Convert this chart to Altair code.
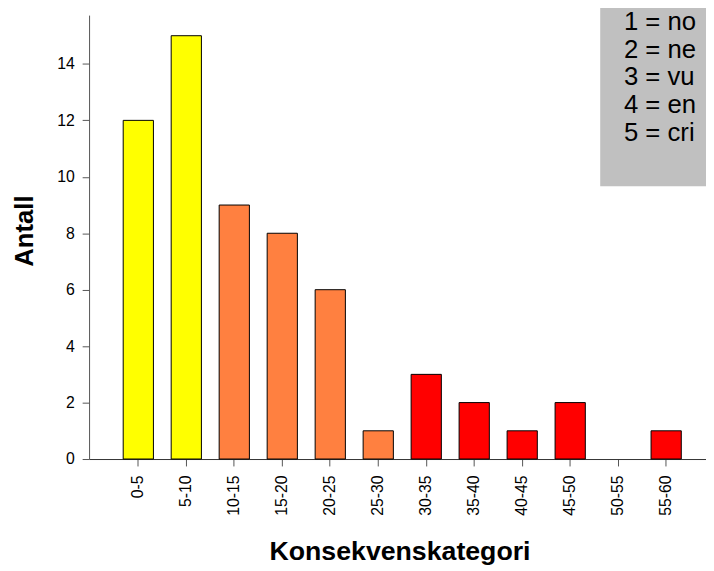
import altair as alt
import pandas as pd

categories = ["0-5", "5-10", "10-15", "15-20", "20-25", "25-30",
              "30-35", "35-40", "40-45", "45-50", "50-55", "55-60"]
counts = [12, 15, 9, 8, 6, 1, 3, 2, 1, 2, 0, 1]
levels = ["gul", "gul", "oransje", "oransje", "oransje", "oransje",
          "rød", "rød", "rød", "rød", "rød", "rød"]
level_names = ["gul", "oransje", "rød"]
level_colors = ["#FFFF00", "#FF8040", "#FF0000"]
y_ticks = [0, 2, 4, 6, 8, 10, 12, 14]
legend_lines = ["1 = no", "2 = ne", "3 = vu", "4 = en", "5 = cri"]

df = pd.DataFrame({"kategori": categories, "antall": counts, "niva": levels})
one = pd.DataFrame({"k": [0]})

FONT = "Liberation Sans"

bars = alt.Chart(df).transform_filter("datum.antall > 0").mark_bar(
    stroke="#000000", strokeWidth=1
).encode(
    x=alt.X("kategori:N", sort=categories,
            scale=alt.Scale(domain=categories, paddingInner=0.37,
                            paddingOuter=0.613, align=0.58),
            axis=alt.Axis(title="Konsekvenskategori", labelAngle=270,
                          labelAlign="right", labelBaseline="middle",
                          labelPadding=9, titleFontSize=27,
                          titleFontWeight="bold", titleX=314, titleY=102,
                          titleBaseline="alphabetic", titleAlign="center",
                          labelFontSize=16, tickSize=7, tickColor="#555555",
                          domainColor="#333333", labelColor="#000000",
                          titleColor="#000000", labelFont=FONT, titleFont=FONT)),
    y=alt.Y("antall:Q",
            scale=alt.Scale(domain=[0, 15.73], nice=False),
            axis=alt.Axis(title="Antall", values=y_ticks, grid=False,
                          labelFontSize=16, titleFontSize=26,
                          titleFontWeight="bold", tickSize=7,
                          tickColor="#555555", domainColor="#555555",
                          labelPadding=8, titleX=-57, titleY=218,
                          titleBaseline="alphabetic", titleAlign="center",
                          titleAngle=270,
                          labelColor="#000000", titleColor="#000000",
                          labelFont=FONT, titleFont=FONT)),
    color=alt.Color("niva:N", scale=alt.Scale(domain=level_names, range=level_colors),
                    legend=None),
)

box = alt.Chart(one).mark_rect(color="#C0C0C0").encode(
    x=alt.value(517), x2=alt.value(700), y=alt.value(-12), y2=alt.value(173)
)

legend_text = alt.Chart(one).mark_text(
    text=legend_lines, align="left", baseline="alphabetic",
    font=FONT, fontSize=26, lineHeight=28, color="#000000"
).encode(x=alt.value(541), y=alt.value(15))

chart = alt.layer(box, bars, legend_text).properties(
    width=624, height=449,
    padding={"left": 82, "top": 4, "right": 0, "bottom": 104},
    autosize=alt.AutoSizeParams(type="none"),
).configure_view(stroke=None)

chart.save("out.html", embed_options={"renderer": "svg", "actions": False})
